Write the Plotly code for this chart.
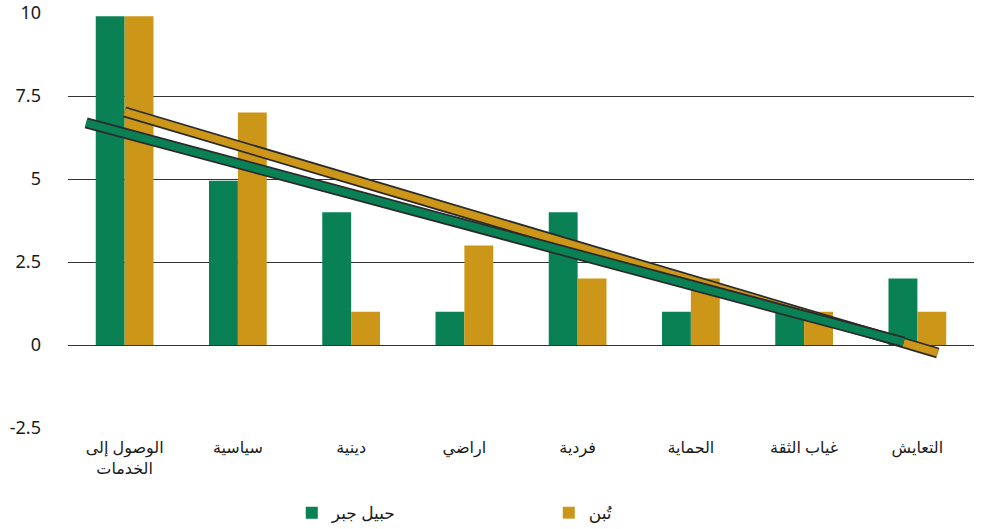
import plotly.graph_objects as go

categories = ["الوصول إلى<br>الخدمات", "سياسية", "دينية", "اراضي", "فردية", "الحماية", "غياب الثقة", "التعايش"]
series_names = ["حبيل جبر", "تُبن"]
green_values = [9.9, 4.95, 4, 1, 4, 1, 1, 2]
gold_values = [9.9, 7, 1, 3, 2, 2, 1, 1]

# trend lines (category index, value)
trend_green_x = [-0.34, 6.88]
trend_green_y = [6.69, 0.09]
trend_gold_x = [0.0, 7.18]
trend_gold_y = [7.02, -0.24]

ytick_vals = [10, 7.5, 5, 2.5, 0, -2.5]
ytick_text = ["10", "7.5", "5", "2.5", "0", "-2.5"]

GREEN = "#0a8155"
GOLD = "#cc9618"
OUTLINE = "#2b2b2b"

xs = list(range(len(categories)))

fig = go.Figure()
fig.add_trace(go.Bar(x=xs, y=green_values, name=series_names[0], marker=dict(color=GREEN, line=dict(width=0))))
fig.add_trace(go.Bar(x=xs, y=gold_values, name=series_names[1], marker=dict(color=GOLD, line=dict(width=0))))

for tx, ty, col in [(trend_gold_x, trend_gold_y, GOLD), (trend_green_x, trend_green_y, GREEN)]:
    fig.add_trace(go.Scatter(x=tx, y=ty, mode="lines", line=dict(color=OUTLINE, width=11),
                             showlegend=False, hoverinfo="skip"))
    fig.add_trace(go.Scatter(x=tx, y=ty, mode="lines", line=dict(color=col, width=7.5),
                             showlegend=False, hoverinfo="skip"))

fig.update_layout(
    width=981, height=529,
    margin=dict(l=68, r=7, t=13, b=101, autoexpand=False),
    paper_bgcolor="white", plot_bgcolor="white",
    barmode="group", bargap=0.49, bargroupgap=0,
    font=dict(family="Noto Sans, DejaVu Sans, sans-serif", color="#1a1a1a"),
    xaxis=dict(
        range=[-0.5, 7.5], tickmode="array", tickvals=xs, ticktext=categories,
        showgrid=False, zeroline=False, showline=False, ticks="", automargin=False,
        tickfont=dict(size=16, color="#1a1a1a"), ticklabelstandoff=8,
    ),
    yaxis=dict(
        range=[-2.5, 10], tickmode="array", tickvals=ytick_vals, ticktext=ytick_text,
        showgrid=True, gridcolor="#333333", gridwidth=1, automargin=False,
        zeroline=True, zerolinecolor="#333333", zerolinewidth=1,
        showline=False, ticks="", tickfont=dict(size=18, color="#1a1a1a"),
        ticklabelstandoff=26,
    ),
    legend=dict(
        orientation="h", x=0.247, xanchor="left", y=-0.205, yanchor="middle",
        font=dict(size=17, color="#1a1a1a"), entrywidth=212, entrywidthmode="pixels",
        bgcolor="rgba(0,0,0,0)",
    ),
)

fig.write_html("out.html", config={"displayModeBar": False},
               post_script="document.body.style.margin='0';")
